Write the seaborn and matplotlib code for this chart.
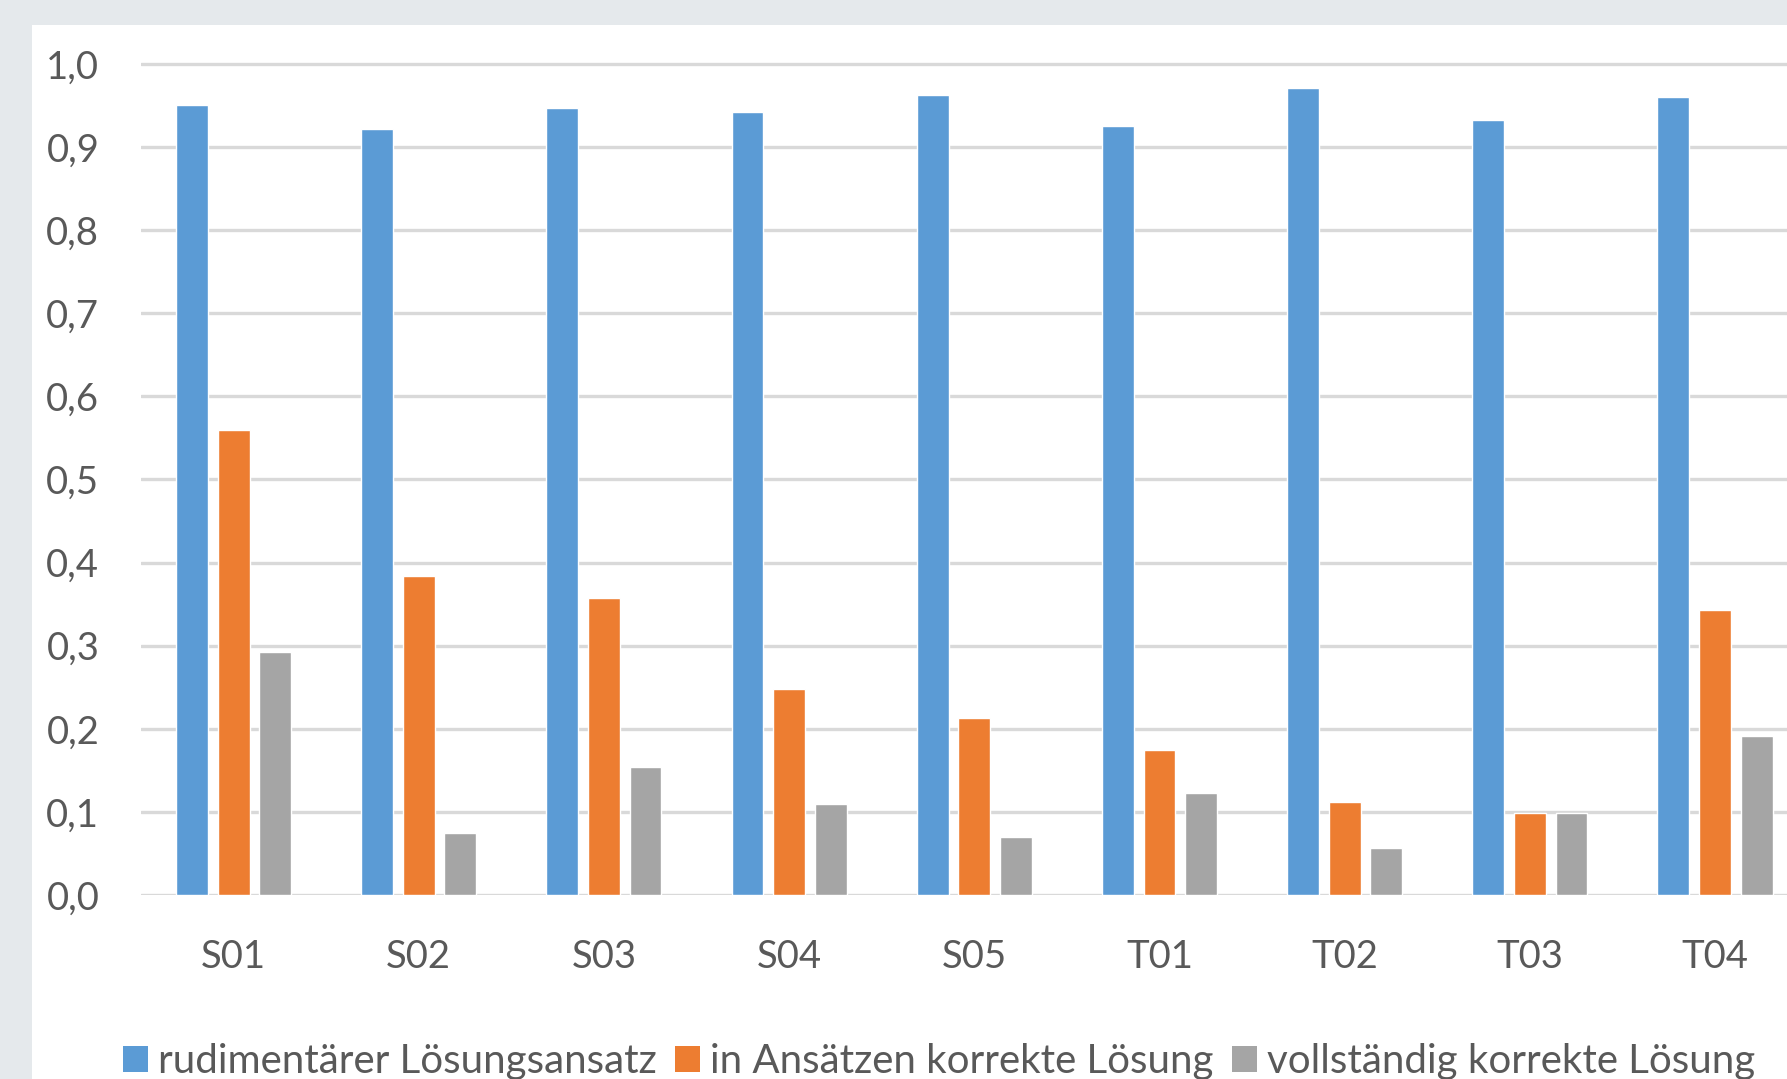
import matplotlib
matplotlib.use("Agg")
import matplotlib.pyplot as plt
import matplotlib.patches as mpatches
from matplotlib.ticker import FuncFormatter, MultipleLocator
import seaborn as sns
import pandas as pd

# Task categories and share of solutions per quality level
categories = ["S01", "S02", "S03", "S04", "S05", "T01", "T02", "T03", "T04"]
rudimentaer = [0.951, 0.922, 0.947, 0.942, 0.963, 0.925, 0.971, 0.933, 0.960]
in_ansaetzen = [0.560, 0.384, 0.358, 0.248, 0.213, 0.174, 0.112, 0.099, 0.343]
vollstaendig = [0.292, 0.075, 0.154, 0.110, 0.070, 0.123, 0.056, 0.099, 0.191]
series_names = ["rudimentärer Lösungsansatz", "in Ansätzen korrekte Lösung",
                "vollständig korrekte Lösung"]
colors = ["#5B9BD5", "#ED7D31", "#A5A5A5"]

rows = []
for name, vals in zip(series_names, [rudimentaer, in_ansaetzen, vollstaendig]):
    for cat, v in zip(categories, vals):
        rows.append({"Aufgabe": cat, "Anteil": v, "Stufe": name})
df = pd.DataFrame(rows)

sns.set_theme(style="white")
plt.rcParams["font.family"] = ["Lato", "DejaVu Sans"]
text_color = "#595959"

W, H = 1787, 1079
fig = plt.figure(figsize=(W / 100, H / 100), dpi=100)
fig.patch.set_facecolor("#E5E9EC")

# white chart panel behind everything
panel = mpatches.Rectangle((32 / W, 0), 1 - 32 / W, 1 - 25 / H,
                           transform=fig.transFigure, facecolor="white",
                           edgecolor="none", zorder=-10)
fig.patches.append(panel)

# axes placement: y=0 at 895 px, y=1 at 64 px; x from 141 px to right edge
y0_px, y1_px = 895, 64
ytop = 1.01
px_per_unit = (y0_px - y1_px)
ax_top_px = y0_px - ytop * px_per_unit
ax = fig.add_axes([141 / W, 1 - y0_px / H, 1 - 141 / W,
                   (y0_px - ax_top_px) / H])
ax.set_facecolor("none")
ax.set_zorder(1)

sns.barplot(data=df, x="Aufgabe", y="Anteil", hue="Stufe",
            palette=colors, saturation=1, width=0.674, gap=0.234,
            errorbar=None, ax=ax, legend=False, zorder=3)

ax.set_ylim(0, ytop)
ax.set_xlim(-0.5, 8 + (1787 - 1715) / 185.2)
ax.yaxis.set_major_locator(MultipleLocator(0.1))
ax.yaxis.set_major_formatter(FuncFormatter(lambda v, p: f"{v:.1f}".replace(".", ",")))
ax.grid(axis="y", color="#D9D9D9", linewidth=2.4, zorder=0)
ax.set_axisbelow(True)
for s in ax.spines.values():
    s.set_visible(False)
ax.set_xlabel("")
ax.set_ylabel("")
ax.tick_params(axis="both", length=0, colors=text_color, labelsize=27.5)
ax.tick_params(axis="y", pad=30)
ax.tick_params(axis="x", pad=32)
for lbl in ax.get_yticklabels() + ax.get_xticklabels():
    lbl.set_color(text_color)

handles = [mpatches.Patch(facecolor=c, edgecolor="none", label=n)
           for c, n in zip(colors, series_names)]
fig.legend(handles=handles, loc="center left", ncol=3, frameon=False,
           bbox_to_anchor=(107 / W, 1 - 1062 / H), fontsize=29,
           handlelength=0.62, handleheight=0.62, handletextpad=0.25,
           columnspacing=0.45, labelcolor=text_color, borderaxespad=0)

fig.savefig("out.png", dpi=100, facecolor=fig.get_facecolor())
